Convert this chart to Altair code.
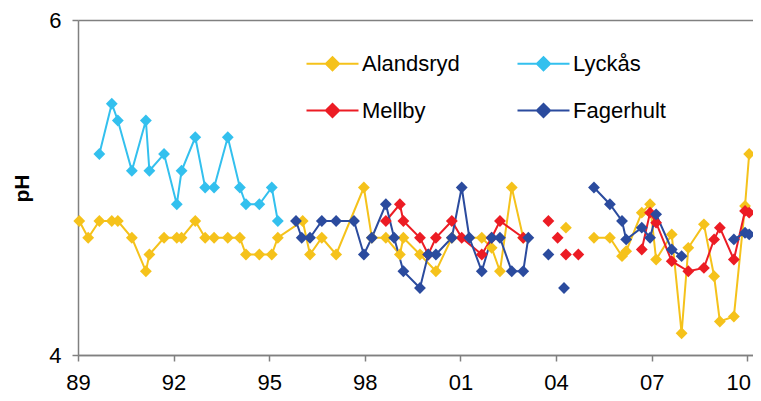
import altair as alt
import pandas as pd

# ---- data (decimal year, pH, line segment id) ----
series_names = ["Alandsryd", "Lyckås", "Mellby", "Fagerhult"]
series_colors = ["#F5C21B", "#33C0EE", "#EC1C24", "#2B4B9E"]
# legend fills column by column: this order gives rows "Alandsryd Lyckås" / "Mellby Fagerhult"
legend_order = ["Alandsryd", "Mellby", "Lyckås", "Fagerhult"]

alandsryd_year = [1989.04, 1989.32, 1989.67, 1990.06, 1990.25, 1990.69, 1991.13, 1991.24, 1991.70,
                  1992.10, 1992.25, 1992.68, 1992.99, 1993.27, 1993.70, 1994.08, 1994.27, 1994.69,
                  1995.08, 1995.27, 1996.05, 1996.28, 1996.65, 1997.10, 1997.97, 1998.22, 1998.66,
                  1999.10, 1999.21, 1999.73, 2000.23, 2000.73, 2001.67, 2001.98, 2002.24, 2002.61,
                  2002.97,
                  2004.31,
                  2005.19, 2005.69, 2006.07, 2006.20, 2006.69, 2006.95, 2007.14, 2007.63, 2007.94,
                  2008.15, 2008.64, 2008.96, 2009.14, 2009.58, 2009.93, 2010.06]
alandsryd_ph = [4.8, 4.7, 4.8, 4.8, 4.8, 4.7, 4.5, 4.6, 4.7,
                4.7, 4.7, 4.8, 4.7, 4.7, 4.7, 4.7, 4.6, 4.6,
                4.6, 4.7, 4.8, 4.6, 4.7, 4.6, 5.0, 4.7, 4.7,
                4.6, 4.7, 4.6, 4.5, 4.7, 4.7, 4.64, 4.5, 5.0,
                4.7,
                4.76,
                4.7, 4.7, 4.59, 4.62, 4.85, 4.9, 4.57, 4.72, 4.13,
                4.64, 4.78, 4.47, 4.2, 4.23, 4.89, 5.2]
alandsryd_seg = [1] * 37 + [2] + [3] * 16

lyckas_year = [1989.67, 1990.06, 1990.25, 1990.69, 1991.13, 1991.24, 1991.70, 1992.10, 1992.25,
               1992.68, 1992.99, 1993.27, 1993.70, 1994.08, 1994.27, 1994.69, 1995.08, 1995.27]
lyckas_ph = [5.2, 5.5, 5.4, 5.1, 5.4, 5.1, 5.2, 4.9, 5.1,
             5.3, 5.0, 5.0, 5.3, 5.0, 4.9, 4.9, 5.0, 4.8]
lyckas_seg = [1] * 18

mellby_year = [1998.66, 1999.10, 1999.21, 1999.73, 1999.99, 2000.23, 2000.73, 2001.04, 2001.67,
               2001.98, 2002.24, 2002.97,
               2003.76, 2004.05, 2004.31, 2004.70,
               2006.69, 2006.95, 2007.14, 2007.63, 2008.15, 2008.64, 2008.96, 2009.14, 2009.58,
               2009.93, 2010.06]
mellby_ph = [4.8, 4.9, 4.8, 4.7, 4.6, 4.7, 4.8, 4.7, 4.6,
             4.7, 4.8, 4.7,
             4.8, 4.7, 4.6, 4.6,
             4.63, 4.85, 4.79, 4.56, 4.5, 4.52, 4.69, 4.76, 4.57,
             4.86, 4.85]
mellby_seg = [1] * 12 + [2, 3, 4, 5] + [6] * 11

fagerhult_year = [1995.84, 1996.02, 1996.28, 1996.65, 1997.10, 1997.66, 1997.97, 1998.22, 1998.66,
                  1998.92, 1999.21, 1999.73, 1999.99, 2000.23, 2000.73, 2001.04, 2001.28, 2001.67,
                  2001.98, 2002.24, 2002.61, 2002.97, 2003.13,
                  2003.76, 2004.25,
                  2005.19, 2005.69, 2006.07, 2006.20, 2006.69, 2006.95, 2007.14, 2007.63, 2007.94,
                  2009.58, 2009.93, 2010.06]
fagerhult_ph = [4.8, 4.7, 4.7, 4.8, 4.8, 4.8, 4.6, 4.7, 4.9,
                4.7, 4.5, 4.4, 4.6, 4.6, 4.7, 5.0, 4.7, 4.5,
                4.7, 4.7, 4.5, 4.5, 4.7,
                4.6, 4.4,
                5.0, 4.9, 4.8, 4.69, 4.76, 4.7, 4.84, 4.63, 4.59,
                4.69, 4.73, 4.72]
fagerhult_seg = [1] * 23 + [2, 3] + [4] * 9 + [5] * 3

x_tick_values = [1989, 1992, 1995, 1998, 2001, 2004, 2007, 2010]
y_tick_values = [4, 5, 6]

rows = []
for name, ys, vs, ss in [
    ("Alandsryd", alandsryd_year, alandsryd_ph, alandsryd_seg),
    ("Lyckås", lyckas_year, lyckas_ph, lyckas_seg),
    ("Mellby", mellby_year, mellby_ph, mellby_seg),
    ("Fagerhult", fagerhult_year, fagerhult_ph, fagerhult_seg),
]:
    for y, v, s in zip(ys, vs, ss):
        rows.append({"site": name, "year": y, "ph": v, "seg": f"{name}-{s}",
                     "order": series_names.index(name)})
df = pd.DataFrame(rows)

FONT = "Liberation Sans"
legend_path = "M-2,0L2,0M0,-0.5L0.5,0L0,0.5L-0.5,0Z"
color_range = [series_colors[series_names.index(n)] for n in legend_order]

color = alt.Color(
    "site:N",
    scale=alt.Scale(domain=legend_order, range=color_range),
    legend=alt.Legend(
        title=None, orient="none", legendX=240, legendY=29, columns=2,
        symbolType=legend_path, symbolSize=676, symbolStrokeWidth=2.2,
        labelFontSize=22, labelFont=FONT, labelColor="#000000",
        labelOffset=15, rowPadding=21, columnPadding=53, padding=0,
    ),
)

x = alt.X(
    "year:Q",
    scale=alt.Scale(domain=[1989, 2010.18], nice=False, zero=False),
    axis=alt.Axis(
        title=None, values=x_tick_values, labelExpr="slice(toString(datum.value), 2)",
        grid=False, tickSize=6, labelPadding=11, labelFontSize=22, labelFont=FONT,
        labelColor="#000000", domainColor="#808080", tickColor="#808080",
        domainWidth=1.5, tickWidth=1.5, labelFlush=False,
        labelOffset={"condition": {"test": "datum.value == 2010", "value": -9}, "value": 0},
    ),
)
y = alt.Y(
    "ph:Q",
    scale=alt.Scale(domain=[4, 6], nice=False, zero=False),
    axis=alt.Axis(
        title="pH", values=y_tick_values, format="d", grid=True, gridColor="#808080",
        gridWidth=1.5, tickSize=6, labelPadding=11, labelFontSize=22, labelFont=FONT,
        labelColor="#000000", domainColor="#808080", tickColor="#808080",
        domainWidth=1.5, tickWidth=1.5, titleFont=FONT, titleFontSize=21,
        titleFontWeight="bold", titleColor="#000000", titleAngle=-90,
        titleX=-56, titleY=168, titleAlign="center", titleBaseline="middle",
    ),
)

lines = alt.Chart(df).mark_line(strokeWidth=2).encode(
    x=x, y=y, color=color, detail="seg:N", order="year:Q"
)
points = alt.Chart(df).mark_point(shape="diamond", filled=True, size=140, opacity=1).encode(
    x=x, y=y, color=color, order="order:Q"
)

chart = (
    alt.layer(lines, points)
    .properties(
        width=675, height=335,
        autosize=alt.AutoSizeParams(type="none"),
        padding={"left": 70, "top": 12, "right": 0, "bottom": 40},
        background="white",
    )
    .configure_view(stroke=None)
)

chart.save("out.html", embed_options={"renderer": "svg", "actions": False})
